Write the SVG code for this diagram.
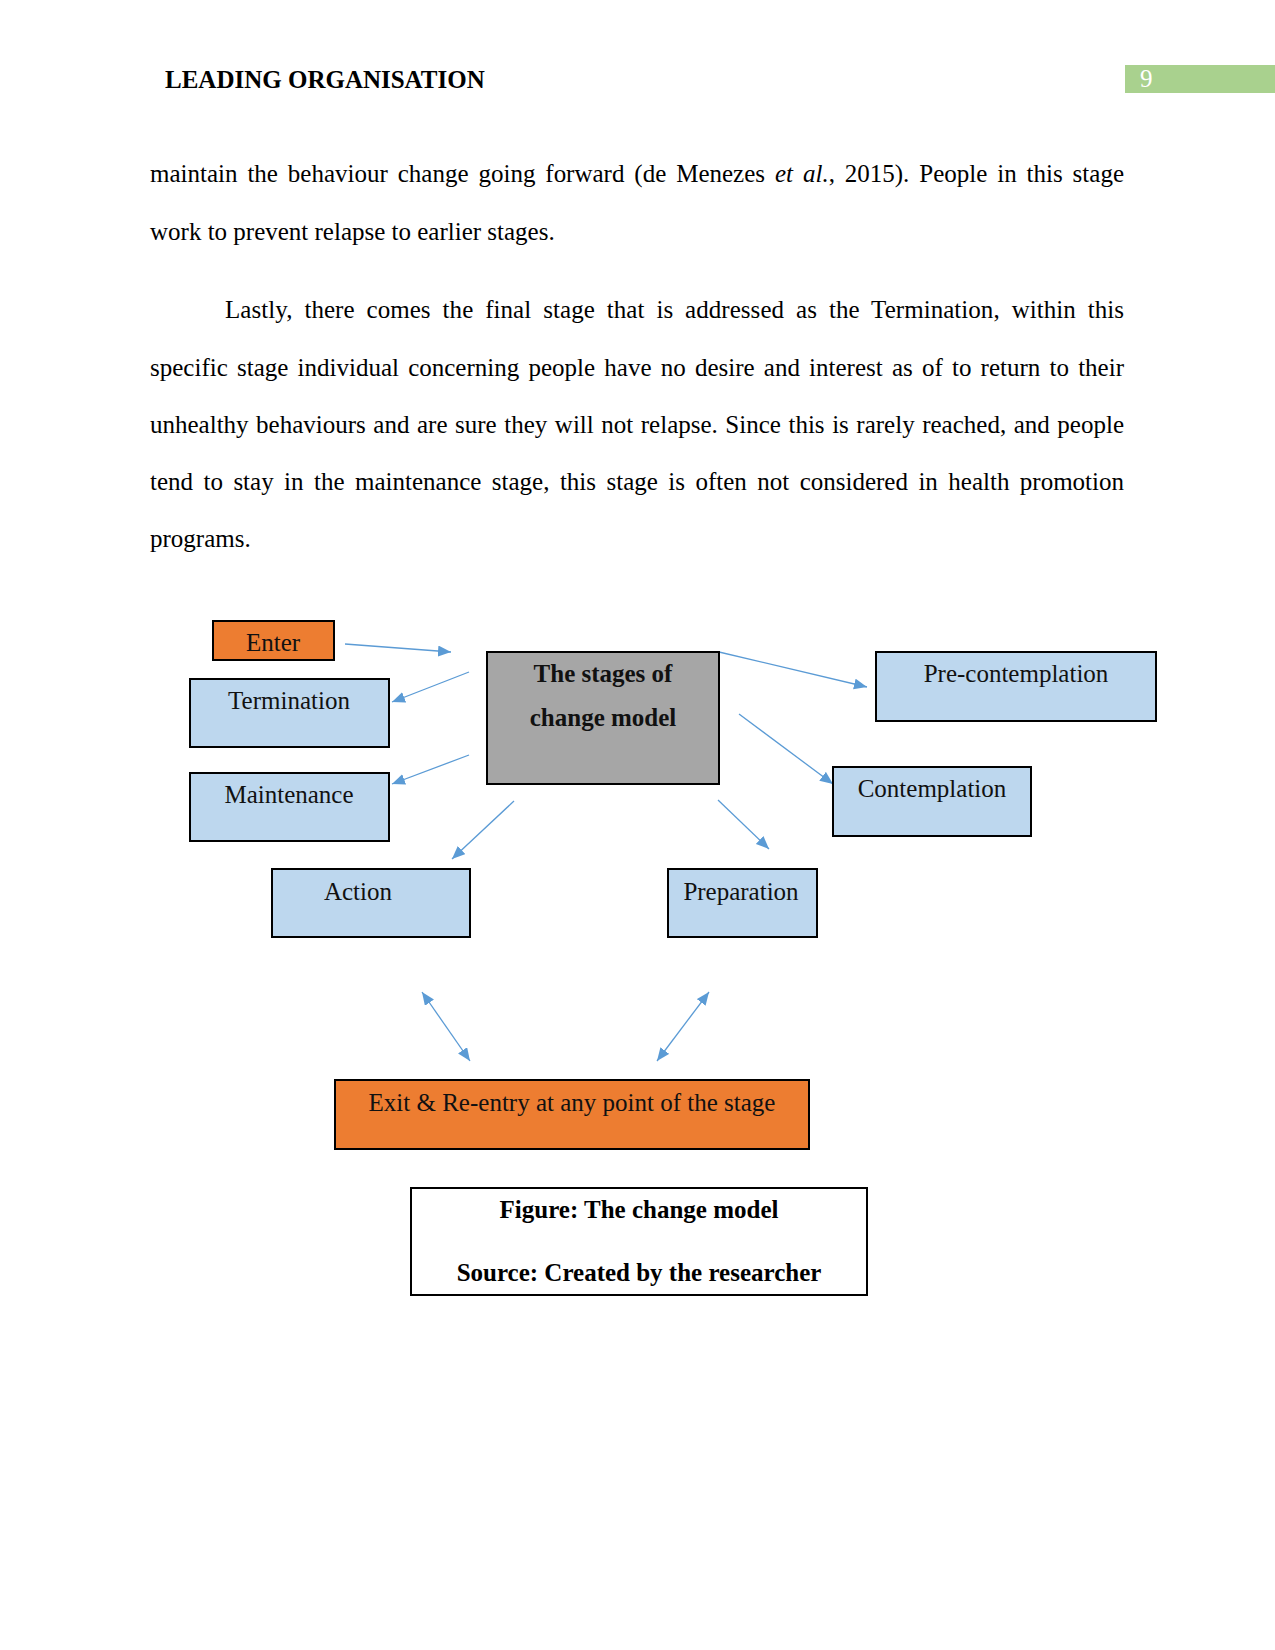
<svg xmlns="http://www.w3.org/2000/svg" width="1275" height="1650" viewBox="0 0 1275 1650">
<style>
  .body { font-family: "Liberation Serif", "Times New Roman", serif; font-size: 25px; fill: #000; }
  .bold { font-weight: bold; }
  .lbl { font-family: "Liberation Serif", "Times New Roman", serif; font-size: 25px; fill: #111; text-anchor: middle; }
  .blue { fill: #BDD7EE; stroke: #000; stroke-width: 2; }
  .orange { fill: #ED7D31; stroke: #000; stroke-width: 2; }
  .grey { fill: #A6A6A6; stroke: #000; stroke-width: 2; }
  .cap { fill: #fff; stroke: #000; stroke-width: 2; }
  .conn line { stroke: #5B9BD5; stroke-width: 1.3; fill: none; }
</style>
<defs>
  <marker id="ah" markerUnits="userSpaceOnUse" markerWidth="14" markerHeight="12" refX="13" refY="5.5" orient="auto-start-reverse">
    <path d="M0,0 L13,5.5 L0,11 z" fill="#5B9BD5"/>
  </marker>
</defs>
<rect width="1275" height="1650" fill="#fff"/>

<!-- header -->
<text class="body bold" x="165" y="88">LEADING ORGANISATION</text>
<rect x="1125" y="65" width="150" height="28" fill="#A9D18E"/>
<text class="body" x="1140" y="87" style="fill:#fff">9</text>

<!-- body text -->
<text class="body" x="150" y="182" word-spacing="3.66" textLength="974" lengthAdjust="spacing">maintain the behaviour change going forward (de Menezes <tspan font-style="italic">et al.</tspan>, 2015). People in this stage</text>
<text class="body" x="150" y="240">work to prevent relapse to earlier stages.</text>
<text class="body" x="225" y="318" word-spacing="5.65" textLength="899" lengthAdjust="spacing">Lastly, there comes the final stage that is addressed as the Termination, within this</text>
<text class="body" x="150" y="376" word-spacing="2.95" textLength="974" lengthAdjust="spacing">specific stage individual concerning people have no desire and interest as of to return to their</text>
<text class="body" x="150" y="433" word-spacing="1.29" textLength="974" lengthAdjust="spacing">unhealthy behaviours and are sure they will not relapse. Since this is rarely reached, and people</text>
<text class="body" x="150" y="490" word-spacing="4.2" textLength="974" lengthAdjust="spacing">tend to stay in the maintenance stage, this stage is often not considered in health promotion</text>
<text class="body" x="150" y="547">programs.</text>

<!-- connectors -->
<g id="connectors" class="conn">
  <line x1="345" y1="644" x2="451" y2="652" marker-end="url(#ah)"/>
  <line x1="469" y1="672" x2="392" y2="702" marker-end="url(#ah)"/>
  <line x1="469" y1="755" x2="392" y2="784" marker-end="url(#ah)"/>
  <line x1="719" y1="652" x2="867" y2="687" marker-end="url(#ah)"/>
  <line x1="739" y1="714" x2="833" y2="784" marker-end="url(#ah)"/>
  <line x1="718" y1="800" x2="769" y2="849" marker-end="url(#ah)"/>
  <line x1="514" y1="801" x2="452" y2="859" marker-end="url(#ah)"/>
  <line x1="422" y1="992" x2="470" y2="1061" marker-start="url(#ah)" marker-end="url(#ah)"/>
  <line x1="709" y1="992" x2="657" y2="1061" marker-start="url(#ah)" marker-end="url(#ah)"/>
</g>

<!-- nodes -->
<g id="enter">
  <rect class="orange" x="213" y="621" width="121" height="39"/>
  <text class="lbl" x="273" y="651">Enter</text>
</g>
<g id="termination">
  <rect class="blue" x="190" y="679" width="199" height="68"/>
  <text class="lbl" x="289" y="709">Termination</text>
</g>
<g id="maintenance">
  <rect class="blue" x="190" y="773" width="199" height="68"/>
  <text class="lbl" x="289" y="803">Maintenance</text>
</g>
<g id="center">
  <rect class="grey" x="487" y="652" width="232" height="132"/>
  <text class="lbl bold" x="603" y="682" style="font-weight:bold">The stages of</text>
  <text class="lbl bold" x="603" y="726" style="font-weight:bold">change model</text>
</g>
<g id="precontemplation">
  <rect class="blue" x="876" y="652" width="280" height="69"/>
  <text class="lbl" x="1016" y="682">Pre-contemplation</text>
</g>
<g id="contemplation">
  <rect class="blue" x="833" y="767" width="198" height="69"/>
  <text class="lbl" x="932" y="797">Contemplation</text>
</g>
<g id="action">
  <rect class="blue" x="272" y="869" width="198" height="68"/>
  <text class="lbl" x="358" y="900">Action</text>
</g>
<g id="preparation">
  <rect class="blue" x="668" y="869" width="149" height="68"/>
  <text class="lbl" x="741" y="900">Preparation</text>
</g>
<g id="exit">
  <rect class="orange" x="335" y="1080" width="474" height="69"/>
  <text class="lbl" x="572" y="1111">Exit &amp; Re-entry at any point of the stage</text>
</g>
<g id="caption">
  <rect class="cap" x="411" y="1188" width="456" height="107"/>
  <text class="lbl" x="639" y="1218" style="font-weight:bold;fill:#000">Figure: The change model</text>
  <text class="lbl" x="639" y="1281" style="font-weight:bold;fill:#000">Source: Created by the researcher</text>
</g>
</svg>
